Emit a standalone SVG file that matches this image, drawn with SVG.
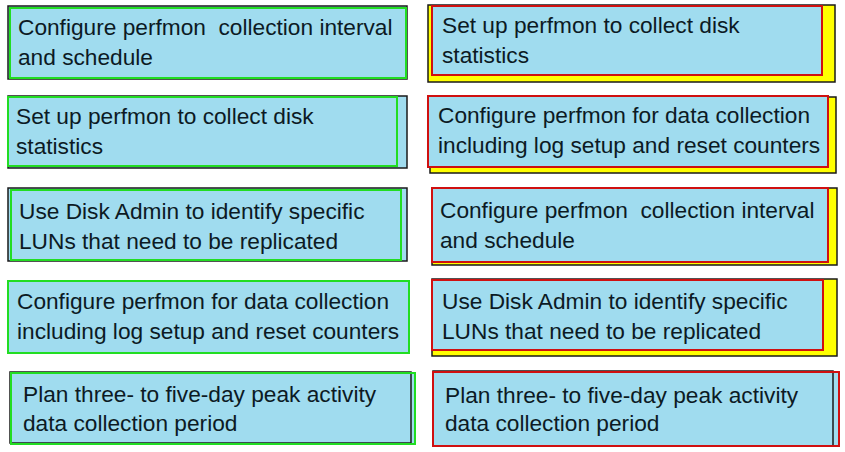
<svg xmlns="http://www.w3.org/2000/svg" width="845" height="452" viewBox="0 0 845 452">
<style>
.bg{fill:#ffffff}
.box{fill:#a0dcef}
.dk{fill:none;stroke:#1a1a1a;stroke-width:1.5}
.gr{fill:none;stroke:#22dd22;stroke-width:2}
.rd{fill:none;stroke:#d01010;stroke-width:2}
.yl{fill:#ffff00;stroke:#1a1a1a;stroke-width:1.5}
text{font-family:"Liberation Sans",Arial,sans-serif;font-size:22.7px;fill:#0c1a24;white-space:pre}
</style>
<rect class="bg" x="0" y="0" width="845" height="452"/>
<g id="L1">
<rect class="box" x="8" y="6" width="399" height="73"/>
<rect class="dk" x="8" y="6" width="399" height="73"/>
<rect class="gr" x="10" y="8" width="396" height="70"/>
<text x="18" y="35" xml:space="preserve">Configure perfmon  collection interval</text>
<text x="18" y="65">and schedule</text>
</g>
<g id="L2">
<rect class="box" x="8" y="96" width="399" height="72"/>
<rect class="dk" x="8" y="96" width="399" height="72"/>
<rect class="gr" x="8" y="97" width="389" height="69"/>
<text x="16" y="124">Set up perfmon to collect disk</text>
<text x="16" y="154">statistics</text>
</g>
<g id="L3">
<rect class="box" x="8" y="188" width="399" height="73"/>
<rect class="dk" x="8" y="188" width="399" height="73"/>
<rect class="gr" x="11" y="190" width="390" height="70"/>
<text x="19" y="219">Use Disk Admin to identify specific</text>
<text x="19" y="249">LUNs that need to be replicated</text>
</g>
<g id="L4">
<rect class="box" x="8" y="281" width="401" height="72"/>
<rect class="dk" x="8" y="281" width="401" height="72"/>
<rect class="gr" x="8" y="281" width="401" height="72"/>
<text x="17" y="309">Configure perfmon for data collection</text>
<text x="17" y="339">including log setup and reset counters</text>
</g>
<g id="L5">
<rect class="box" x="10" y="372" width="405" height="72"/>
<rect class="dk" x="10" y="372" width="401" height="71"/>
<rect class="gr" x="11" y="373" width="404" height="71"/>
<text x="23" y="402">Plan three- to five-day peak activity</text>
<text x="23" y="431">data collection period</text>
</g>
<g id="R1">
<rect class="yl" x="428" y="5" width="407" height="77"/>
<rect class="box" x="432" y="6" width="390" height="69"/>
<rect class="rd" x="432" y="6" width="390" height="69"/>
<text x="442" y="33">Set up perfmon to collect disk</text>
<text x="442" y="63">statistics</text>
</g>
<g id="R2">
<rect class="yl" x="430" y="97" width="406" height="76"/>
<rect class="box" x="428" y="96" width="400" height="71"/>
<rect class="rd" x="428" y="96" width="400" height="71"/>
<text x="438" y="123">Configure perfmon for data collection</text>
<text x="438" y="153">including log setup and reset counters</text>
</g>
<g id="R3">
<rect class="yl" x="432" y="188" width="405" height="77"/>
<rect class="box" x="432" y="188" width="396" height="74"/>
<rect class="rd" x="432" y="188" width="396" height="74"/>
<text x="440" y="218" xml:space="preserve">Configure perfmon  collection interval</text>
<text x="440" y="248">and schedule</text>
</g>
<g id="R4">
<rect class="yl" x="432" y="279" width="405" height="77"/>
<rect class="box" x="432" y="280" width="391" height="70"/>
<rect class="rd" x="432" y="280" width="391" height="70"/>
<text x="442" y="309">Use Disk Admin to identify specific</text>
<text x="442" y="339">LUNs that need to be replicated</text>
</g>
<g id="R5">
<rect class="box" x="433" y="371" width="406" height="76"/>
<rect class="dk" x="433" y="371" width="400" height="75"/>
<rect class="rd" x="433" y="372" width="406" height="74"/>
<text x="445" y="403">Plan three- to five-day peak activity</text>
<text x="445" y="431">data collection period</text>
</g>
<g id="connectors"></g>
</svg>
